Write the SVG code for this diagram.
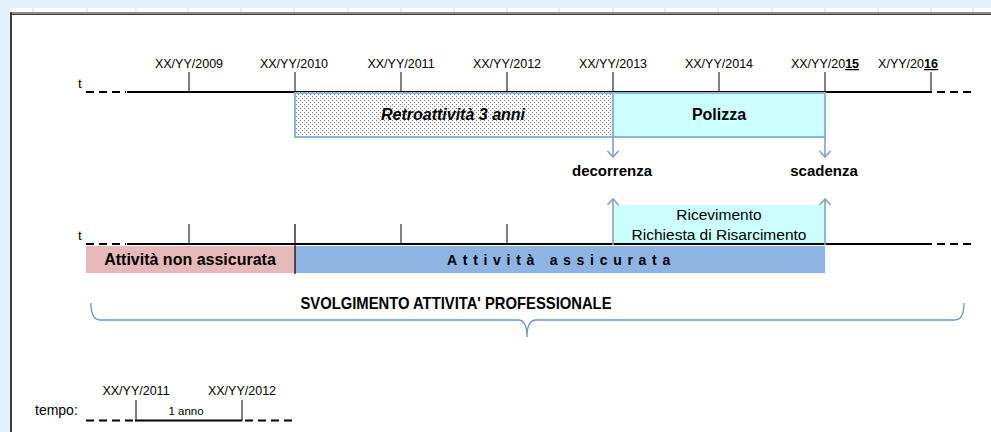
<svg xmlns="http://www.w3.org/2000/svg" width="991" height="432" viewBox="0 0 991 432">
<style>
text{font-family:"Liberation Sans",Arial,sans-serif;fill:#000}
.date{font-size:12.5px;text-anchor:middle}
.tl{stroke:#000;stroke-width:2;fill:none}
.dash{stroke:#000;stroke-width:2;stroke-dasharray:8 5;fill:none}
.tick{stroke:#000;stroke-width:1}
.b{font-weight:bold}
.conn{stroke:#7f9fcf;stroke-width:1.6;fill:none}
.sep{stroke:#d4d9de;stroke-width:1}
</style>
<defs>
<pattern id="dots" width="4" height="4" patternUnits="userSpaceOnUse">
<rect width="4" height="4" fill="#fcfcfc"/>
<rect x="0" y="0" width="1" height="1" fill="#7a7a7a"/>
<rect x="2" y="2" width="1" height="1" fill="#7a7a7a"/>
</pattern>
<marker id="chev" viewBox="-8 -8 16 16" refX="0" refY="0" markerWidth="16" markerHeight="16" markerUnits="userSpaceOnUse" orient="auto">
<path d="M-6,-5.5 L0,0 L-6,5.5" fill="none" stroke="#7f9fcf" stroke-width="1.6"/>
</marker>
</defs>

<g id="chrome">
<rect width="991" height="432" fill="#fff"/>
<rect width="991" height="8" fill="#e3f1fc"/>
<rect width="10" height="432" fill="#e3f1fc"/>
<g class="sep">
<line x1="33" y1="8" x2="33" y2="12"/><line x1="87" y1="8" x2="87" y2="12"/><line x1="136" y1="8" x2="136" y2="12"/><line x1="188" y1="8" x2="188" y2="12"/><line x1="241" y1="8" x2="241" y2="12"/><line x1="294" y1="8" x2="294" y2="12"/><line x1="348" y1="8" x2="348" y2="12"/><line x1="401" y1="8" x2="401" y2="12"/><line x1="454" y1="8" x2="454" y2="12"/><line x1="507" y1="8" x2="507" y2="12"/><line x1="559" y1="8" x2="559" y2="12"/><line x1="613" y1="8" x2="613" y2="12"/><line x1="665" y1="8" x2="665" y2="12"/><line x1="718" y1="8" x2="718" y2="12"/><line x1="772" y1="8" x2="772" y2="12"/><line x1="825" y1="8" x2="825" y2="12"/><line x1="878" y1="8" x2="878" y2="12"/><line x1="931" y1="8" x2="931" y2="12"/><line x1="973" y1="8" x2="973" y2="12"/>
</g>
<rect x="10" y="12" width="981" height="1.3" fill="#8a8a8a"/>
<rect x="10" y="13.5" width="981" height="1.5" fill="#3c3c3c"/>
<rect x="10" y="12" width="2" height="420" fill="#3c3c3c"/>
</g>

<g id="timeline1">
<text x="78" y="88" font-size="13.5">t</text>
<path class="dash" d="M86,92 H126"/>
<path class="tl" d="M127,92 H932"/>
<path class="dash" d="M937,92 H976"/>
<g class="tick">
<line x1="189" y1="72" x2="189" y2="92"/><line x1="295" y1="72" x2="295" y2="92"/><line x1="401" y1="72" x2="401" y2="92"/><line x1="507" y1="72" x2="507" y2="92"/><line x1="613" y1="72" x2="613" y2="92"/><line x1="719" y1="72" x2="719" y2="92"/><line x1="825" y1="72" x2="825" y2="92"/><line x1="931" y1="72" x2="931" y2="92"/>
</g>
<text class="date" x="189" y="68">XX/YY/2009</text>
<text class="date" x="294" y="68">XX/YY/2010</text>
<text class="date" x="401" y="68">XX/YY/2011</text>
<text class="date" x="507" y="68">XX/YY/2012</text>
<text class="date" x="613" y="68">XX/YY/2013</text>
<text class="date" x="719" y="68" font-size="13.5">XX/YY/2014</text>
<text class="date" x="825" y="68">XX/YY/20<tspan font-weight="bold" text-decoration="underline">15</tspan></text>
<text class="date" x="908" y="68">X/YY/20<tspan font-weight="bold" text-decoration="underline">16</tspan></text>
</g>

<g id="retroattivita">
<rect x="295" y="93" width="318" height="44" fill="url(#dots)" stroke="#8db4e2" stroke-width="2"/>
<text x="453" y="120" font-size="16" font-weight="bold" font-style="italic" text-anchor="middle">Retroattività 3 anni</text>
</g>

<g id="polizza">
<rect x="613" y="93" width="212" height="44" fill="#ccffff" stroke="#8db4e2" stroke-width="2"/>
<text x="719" y="120" font-size="16" font-weight="bold" text-anchor="middle">Polizza</text>
</g>

<g id="decorrenza">
<text x="612" y="176" font-size="15" font-weight="bold" text-anchor="middle">decorrenza</text>
</g>
<g id="scadenza">
<text x="824" y="176" font-size="15" font-weight="bold" text-anchor="middle">scadenza</text>
</g>

<g id="ricevimento">
<rect x="613" y="205" width="212" height="39" fill="#ccffff"/>
<text x="719" y="220" font-size="15.5" text-anchor="middle">Ricevimento</text>
<text x="719" y="240" font-size="15.5" text-anchor="middle">Richiesta di Risarcimento</text>
</g>

<g id="timeline2">
<text x="78" y="240" font-size="13.5">t</text>
<path class="dash" d="M86,244 H126"/>
<path class="tl" d="M127,244 H932"/>
<path class="dash" d="M937,244 H976"/>
<g class="tick">
<line x1="189" y1="224" x2="189" y2="244"/><line x1="401" y1="224" x2="401" y2="244"/><line x1="507" y1="224" x2="507" y2="244"/>
</g>
</g>

<g id="attivita-non-assicurata">
<rect x="86" y="246" width="209" height="27" fill="#e6b9b8"/>
<text x="190" y="265" font-size="16" font-weight="bold" text-anchor="middle">Attività non assicurata</text>
</g>
<g id="attivita-assicurata">
<rect x="295" y="246" width="530" height="27" fill="#8eb4e3"/>
<line x1="295" y1="224" x2="295" y2="274" stroke="#000" stroke-width="1.2"/>
<text x="447" y="265" font-size="14" font-weight="bold" letter-spacing="5.7">Attività assicurata</text>
</g>

<g id="svolgimento">
<text x="456" y="309" font-size="17" font-weight="bold" text-anchor="middle" textLength="311" lengthAdjust="spacingAndGlyphs">SVOLGIMENTO ATTIVITA' PROFESSIONALE</text>
<path d="M91,303 Q91,320 100,320 L518,320 Q527,320 527,337 Q527,320 536,320 L955,320 Q964,320 964,303" fill="none" stroke="#7095c8" stroke-width="1.3"/>
</g>

<g id="legenda">
<text x="35" y="415" font-size="14">tempo:</text>
<path class="dash" d="M86,420.5 H135"/>
<path class="tl" d="M135,420.5 H242"/>
<path class="dash" d="M245,420.5 H297"/>
<line class="tick" x1="136" y1="400" x2="136" y2="421"/>
<line class="tick" x1="242" y1="400" x2="242" y2="421"/>
<text class="date" x="136" y="395">XX/YY/2011</text>
<text class="date" x="242" y="395">XX/YY/2012</text>
<text x="186" y="415" font-size="11.5" text-anchor="middle">1 anno</text>
</g>

<g id="connectors">
<line class="conn" x1="613" y1="137" x2="613" y2="157" marker-end="url(#chev)"/>
<line class="conn" x1="825" y1="137" x2="825" y2="157" marker-end="url(#chev)"/>
<line class="conn" x1="613" y1="245" x2="613" y2="199" marker-end="url(#chev)"/>
<line class="conn" x1="825" y1="245" x2="825" y2="199" marker-end="url(#chev)"/>
</g>
</svg>
